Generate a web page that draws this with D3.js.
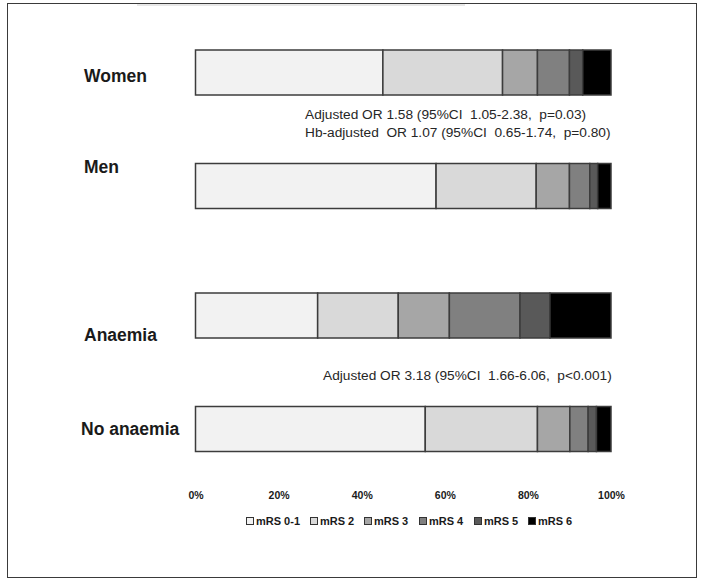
<!DOCTYPE html>
<html><head><meta charset="utf-8">
<script src="https://cdn.jsdelivr.net/npm/d3@7"></script>
<style>
html,body{margin:0;padding:0;background:#fff;}
svg{display:block;}
text{font-family:"Liberation Sans",Arial,sans-serif;}
</style></head>
<body>
<svg id="chart" width="703" height="583"></svg>
<script>
// ---- data ----
const categories = ["Women", "Men", "Anaemia", "No anaemia"];
const groups = [0, 0, 1, 1];
const seriesNames = ["mRS 0-1", "mRS 2", "mRS 3", "mRS 4", "mRS 5", "mRS 6"];
const mrs01 = [45.1, 57.9, 29.4, 55.3];
const mrs2  = [28.8, 24.1, 19.4, 27.0];
const mrs3  = [8.4, 8.0, 12.3, 7.8];
const mrs4  = [7.7, 4.9, 17.0, 4.4];
const mrs5  = [3.2, 1.9, 7.2, 2.0];
const mrs6  = [6.8, 3.2, 14.7, 3.5];
const tickValues = [0, 20, 40, 60, 80, 100];
const annotations1 = ["Adjusted OR 1.58 (95%CI  1.05-2.38,  p=0.03)", "Hb-adjusted  OR 1.07 (95%CI  0.65-1.74,  p=0.80)"];
const annotations2 = ["Adjusted OR 3.18 (95%CI  1.66-6.06,  p<0.001)"];

// ---- build ----
const colors = ["#f2f2f2", "#d9d9d9", "#a6a6a6", "#808080", "#595959", "#000000"];
const table = categories.map((c, i) => ({
  cat: c, grp: groups[i],
  "mRS 0-1": mrs01[i], "mRS 2": mrs2[i], "mRS 3": mrs3[i],
  "mRS 4": mrs4[i], "mRS 5": mrs5[i], "mRS 6": mrs6[i]
}));
const stacked = d3.stack().keys(seriesNames)(table);

const svg = d3.select("#chart");

// frame
svg.append("rect").attr("x", 7.5).attr("y", 3.5).attr("width", 689).attr("height", 574)
  .attr("fill", "none").attr("stroke", "#3a3a3a").attr("stroke-width", 1);
svg.append("line").attr("x1", 137).attr("x2", 465).attr("y1", 5).attr("y2", 5)
  .attr("stroke", "#d0d0d0").attr("stroke-width", 1);

const x = d3.scaleLinear().domain([0, 100]).range([195.5, 611]);
const groupGap = 16;
const yp = d3.scalePoint().domain(categories).range([72.5, 429 - groupGap]);
const yc = d => yp(d.cat) + d.grp * groupGap;
const barH = 45;

const color = d3.scaleOrdinal().domain(seriesNames).range(colors);

svg.append("g").selectAll("g").data(stacked).join("g")
  .attr("fill", s => color(s.key))
  .selectAll("rect").data(s => s).join("rect")
  .attr("x", d => x(d[0]))
  .attr("y", d => yc(d.data) - barH / 2)
  .attr("width", d => x(d[1]) - x(d[0]))
  .attr("height", barH)
  .attr("stroke", "#3c3c3c").attr("stroke-width", 1.5);

// category labels
const labelDy = [3.5, -19, 19.5, 0];
svg.append("g").selectAll("text").data(table).join("text")
  .attr("x", (d, i) => i === 3 ? 81 : 84)
  .attr("y", (d, i) => yc(d) + labelDy[i])
  .attr("dy", "0.35em")
  .attr("font-size", 17.5).attr("font-weight", "bold").attr("fill", "#1a1a1a")
  .text(d => d.cat);

// annotations
svg.append("g").selectAll("text").data(annotations1).join("text")
  .attr("x", 305).attr("y", (d, i) => 119 + i * 18)
  .attr("font-size", 13.7).attr("fill", "#262626")
  .style("white-space", "pre")
  .text(d => d);
svg.append("g").selectAll("text").data(annotations2).join("text")
  .attr("x", 323).attr("y", 380)
  .attr("font-size", 13.7).attr("fill", "#262626")
  .style("white-space", "pre")
  .text(d => d);

// axis
const axis = d3.axisBottom(x).tickValues(tickValues).tickFormat(d => d + "%").tickSize(0);
const ag = svg.append("g").attr("transform", "translate(0,489)").call(axis);
ag.select(".domain").remove();
ag.selectAll("text").attr("font-size", 10.5).attr("font-weight", "bold")
  .attr("fill", "#1a1a1a").attr("font-family", '"Liberation Sans",Arial,sans-serif');

// legend
const legendX = [246, 310, 364, 419, 474, 528];
const lg = svg.append("g").selectAll("g").data(seriesNames).join("g")
  .attr("transform", (d, i) => `translate(${legendX[i]},521)`);
lg.append("rect").attr("x", 0.5).attr("y", -3.5).attr("width", 7).attr("height", 7)
  .attr("fill", d => color(d)).attr("stroke", "#333").attr("stroke-width", 1);
lg.append("text").attr("x", 10).attr("dy", "0.36em")
  .attr("font-size", 11).attr("font-weight", "bold").attr("fill", "#1a1a1a")
  .text(d => d);
</script>
</body></html>
